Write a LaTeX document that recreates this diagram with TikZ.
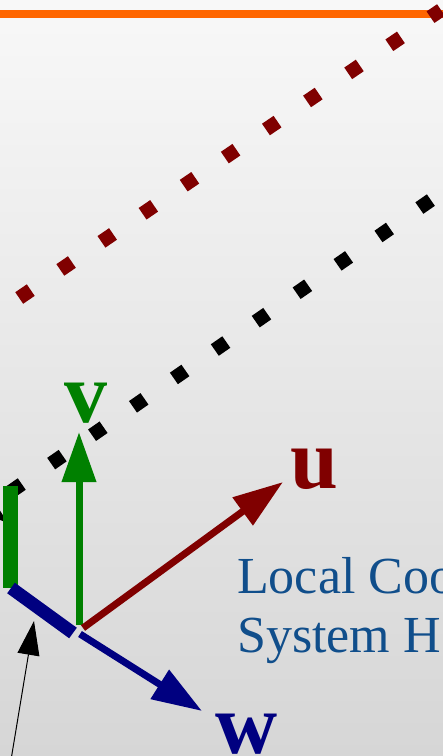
\documentclass[tikz,border=0pt]{standalone}
\usepackage{fontspec}
\setmainfont{Liberation Serif}
\usepackage{xcolor}
\usepackage{tikz}
\usetikzlibrary{arrows.meta}

\definecolor{axisred}{HTML}{800000}
\definecolor{axisgreen}{HTML}{008000}
\definecolor{axisblue}{HTML}{000080}
\definecolor{lineorange}{HTML}{FF6600}
\definecolor{textblue}{RGB}{16,78,139}
\definecolor{bgtop}{RGB}{248,248,248}
\definecolor{bgbottom}{RGB}{214,214,214}

\begin{document}
\begin{tikzpicture}[
  x=1pt, y=-1pt,
  axis/.style={line width=7pt, -{Triangle[length=50pt,width=33pt]}},
  pointer/.style={line width=1pt, -{Triangle[length=34pt,width=22pt]}},
  bar/.style={line width=14pt},
  dotline/.style={line width=14pt, dash pattern=on 14pt off 35.8pt},
  axislabel/.style={anchor=base west, inner sep=0pt, font=\fontsize{86}{90}\selectfont\bfseries},
  caption/.style={anchor=base west, inner sep=0pt, text=textblue, font=\fontsize{52}{59}\selectfont}
]
\useasboundingbox (0,0) rectangle (443,756);
\clip (0,0) rectangle (443,756);
\shade[top color=bgtop, bottom color=bgbottom] (0,0) rectangle (443,756);

% Reference lines
\coordinate (orangeL) at (0,14);
\coordinate (orangeR) at (443,14);
\draw[line width=8pt, lineorange] (orangeL) -- (orangeR);
\coordinate (redS) at (19.2,298);
\coordinate (redE) at (441,10);
\draw[dotline, axisred] (redS) -- (redE);
\coordinate (blackS) at (10.25,492);
\coordinate (blackE) at (431,200);
\draw[dotline, black] (blackS) -- (blackE);

% Pointers
\coordinate (ptrA) at (-70,460);
\coordinate (ptrAtip) at (8,523);
\draw[pointer] (ptrA) -- (ptrAtip);
\coordinate (ptrB) at (11,760);
\coordinate (ptrBtip) at (34,621);
\draw[pointer] (ptrB) -- (ptrBtip);

% Bars
\coordinate (gbarT) at (10.5,486);
\coordinate (gbarB) at (10.5,588);
\draw[bar, line width=15pt, axisgreen] (gbarT) -- (gbarB);
\coordinate (bbarL) at (11,588);
\coordinate (bbarR) at (73,633);
\draw[bar, line width=13pt, axisblue] (bbarL) -- (bbarR);

% Local axes
\coordinate (vS) at (79,625);
\coordinate (vE) at (79,432);
\coordinate (uS) at (83,628);
\coordinate (uE) at (283,482);
\coordinate (wS) at (80,634);
\coordinate (wE) at (202,711);
\draw[axis, axisgreen] (vS) -- (vE);
\draw[axis, axisred] (uS) -- (uE);
\draw[axis, axisblue] (wS) -- (wE);

% Labels
\node[axislabel, text=axisgreen] (lblv) at (64,422) {v};
\node[axislabel, text=axisred] (lblu) at (290,488) {u};
\node[axislabel, text=axisblue] (lblw) at (215,753) {w};
\node[caption] (txtlocal) at (237,593) {Local Coo};
\node[caption] (txtsystem) at (237,652) {System H};

\end{tikzpicture}
\end{document}
